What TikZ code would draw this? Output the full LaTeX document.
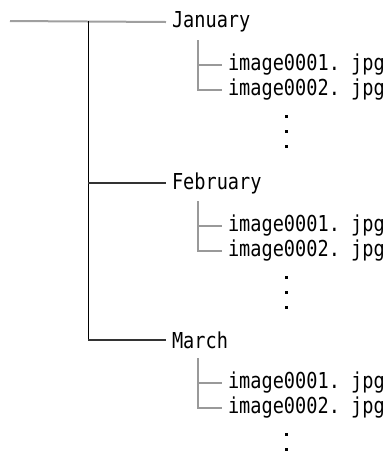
\documentclass[tikz,border=0pt]{standalone}
\usepackage{fontspec}
\setmonofont{DejaVu Sans Mono}
\newcommand\tallname[1]{\scalebox{1}[1.18]{#1}}
\begin{document}
\begin{tikzpicture}[x=1pt,y=-1pt,line cap=butt,
	folder/.style={anchor=west,inner sep=0pt,outer sep=6pt,font=\ttfamily\fontsize{18.6}{18}\selectfont},
	file/.style={folder},
	topline/.style={gray!75,line width=2pt},
	trunkline/.style={black,line width=1pt},
	branchline/.style={gray!40!black,line width=1.3pt},
	subline/.style={gray!80,line width=1.3pt}]
	\useasboundingbox (0,0) rectangle (388,459);
	\coordinate (root) at (10,21);
	\coordinate (trunk) at (88,21);
	% month folders with their files
	\foreach \mon/\name/\y/\nd in {jan/January/22/3, feb/February/183/3, mar/March/340/2} {
		\node[folder] (\mon) at (166,\y) {\tallname{\name}};
		\node[file] (\mon1) at (222,\y+43) {\tallname{image0001. jpg}};
		\node[file] (\mon2) at (222,\y+68) {\tallname{image0002. jpg}};
		\coordinate (\mon top) at (198,\y+18);
		\draw[subline] (\mon top) |- (\mon2.west);
		\draw[subline] (\mon top |- \mon1.west) -- (\mon1.west);
		\foreach \k in {1,...,\nd}
			\fill (285,\y+78+15*\k) rectangle ++(2.5,2.5);
	}
	\draw[topline] (root) -- (jan.west);
	\draw[trunkline] (trunk) -- (trunk |- mar.west);
	\draw[branchline] (trunk |- feb.west) -- (feb.west);
	\draw[branchline] (trunk |- mar.west) -- (mar.west);
\end{tikzpicture}
\end{document}
